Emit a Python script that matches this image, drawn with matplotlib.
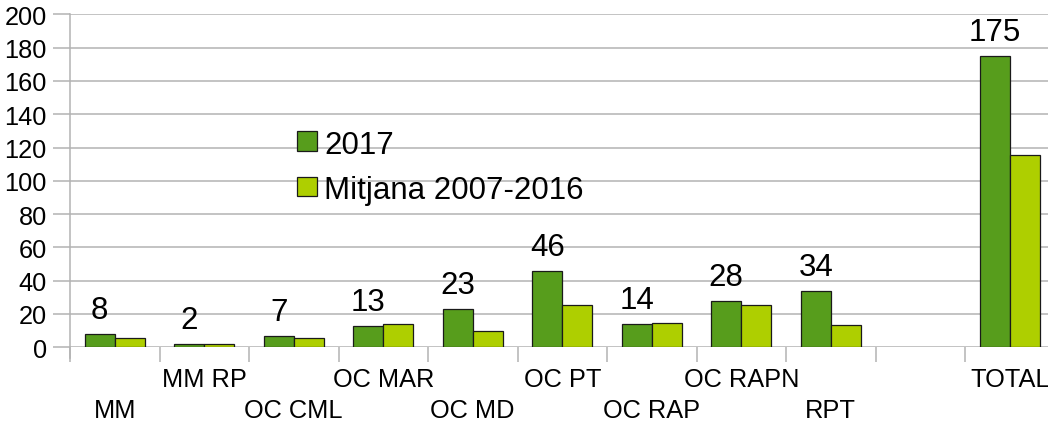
import matplotlib
matplotlib.use("Agg")
import matplotlib.pyplot as plt
from matplotlib.patches import Rectangle
import matplotlib.transforms as mtransforms

plt.rcParams['font.family'] = ['Liberation Sans', 'DejaVu Sans']

categories = ["MM", "MM RP", "OC CML", "OC MAR", "OC MD", "OC PT",
              "OC RAP", "OC RAPN", "RPT", "", "TOTAL"]
label_row = [1, 0, 1, 0, 1, 0, 1, 0, 1, 0, 0]  # 0 = upper row, 1 = lower row
values_2017 = [8, 2, 7, 13, 23, 46, 14, 28, 34, None, 175]
values_mitjana = [5.8, 2, 5.4, 14.2, 9.6, 25.2, 14.4, 25.4, 13.6, None, 115.4]
series_names = ["2017", "Mitjana 2007-2016"]
yticks = list(range(0, 201, 20))

c1 = "#579d1c"
c2 = "#aecf00"
edge_c = "#1a1a1a"
grid_c = "#b3b3b3"

W, H = 1048, 427
n = len(categories)
slot_px = 89.5
fig = plt.figure(figsize=(W / 100, H / 100), dpi=100)
ax = fig.add_axes([70 / W, (H - 348.3) / H, n * slot_px / W, 333 / H])

bw = 0.335
for i in range(n):
    if values_2017[i] is not None:
        ax.bar(i - bw / 2, values_2017[i], width=bw, color=c1,
               edgecolor=edge_c, linewidth=0.9, zorder=3)
        ax.annotate(str(values_2017[i]), (i - bw / 2, values_2017[i]),
                    xytext=(0, 11.5), textcoords='offset points',
                    ha='center', va='baseline', fontsize=22.5, color='black')
    if values_mitjana[i] is not None:
        ax.bar(i + bw / 2, values_mitjana[i], width=bw, color=c2,
               edgecolor=edge_c, linewidth=0.9, zorder=3)

ax.set_xlim(-0.5, n - 0.5)
ax.set_ylim(0, 200)
ax.set_yticks(yticks)
ax.yaxis.grid(True, color=grid_c, linewidth=1.1, zorder=0)
ax.set_axisbelow(True)
for s in ["top", "right", "bottom"]:
    ax.spines[s].set_visible(False)
ax.spines["left"].set_color(grid_c)
ax.spines["left"].set_linewidth(1.1)
ax.spines["left"].set_bounds(-200 * 11 / 333, 200)
ax.tick_params(axis='y', length=12, width=1.1, color=grid_c, pad=4.8,
               labelsize=18.3, labelcolor='black')
ax.set_xticks([i - 0.5 for i in range(n)])
ax.set_xticklabels([])
ax.tick_params(axis='x', length=11, width=1.1, color=grid_c)

trans = mtransforms.blended_transform_factory(ax.transData, fig.transFigure)
for i, (lab, row) in enumerate(zip(categories, label_row)):
    y = (H - 380.5) / H if row == 0 else (H - 411.5) / H
    ax.text(i, y, lab, transform=trans, ha='center', va='center',
            fontsize=18.3, color='black')

# legend drawn manually
leg_x, leg_y0, leg_dy, sq = 297, 142, 45.3, 19.5
for j, (name, col) in enumerate(zip(series_names, [c1, c2])):
    cy = leg_y0 + j * leg_dy
    fig.patches.append(Rectangle(((leg_x) / W, (H - cy - sq / 2) / H),
                                 sq / W, sq / H, transform=fig.transFigure,
                                 facecolor=col, edgecolor=edge_c,
                                 linewidth=0.9))
    fig.text((leg_x + sq + 8) / W, (H - cy) / H, name, ha='left',
             va='center_baseline', fontsize=22.5, color='black')

fig.savefig("out.png", dpi=100)
